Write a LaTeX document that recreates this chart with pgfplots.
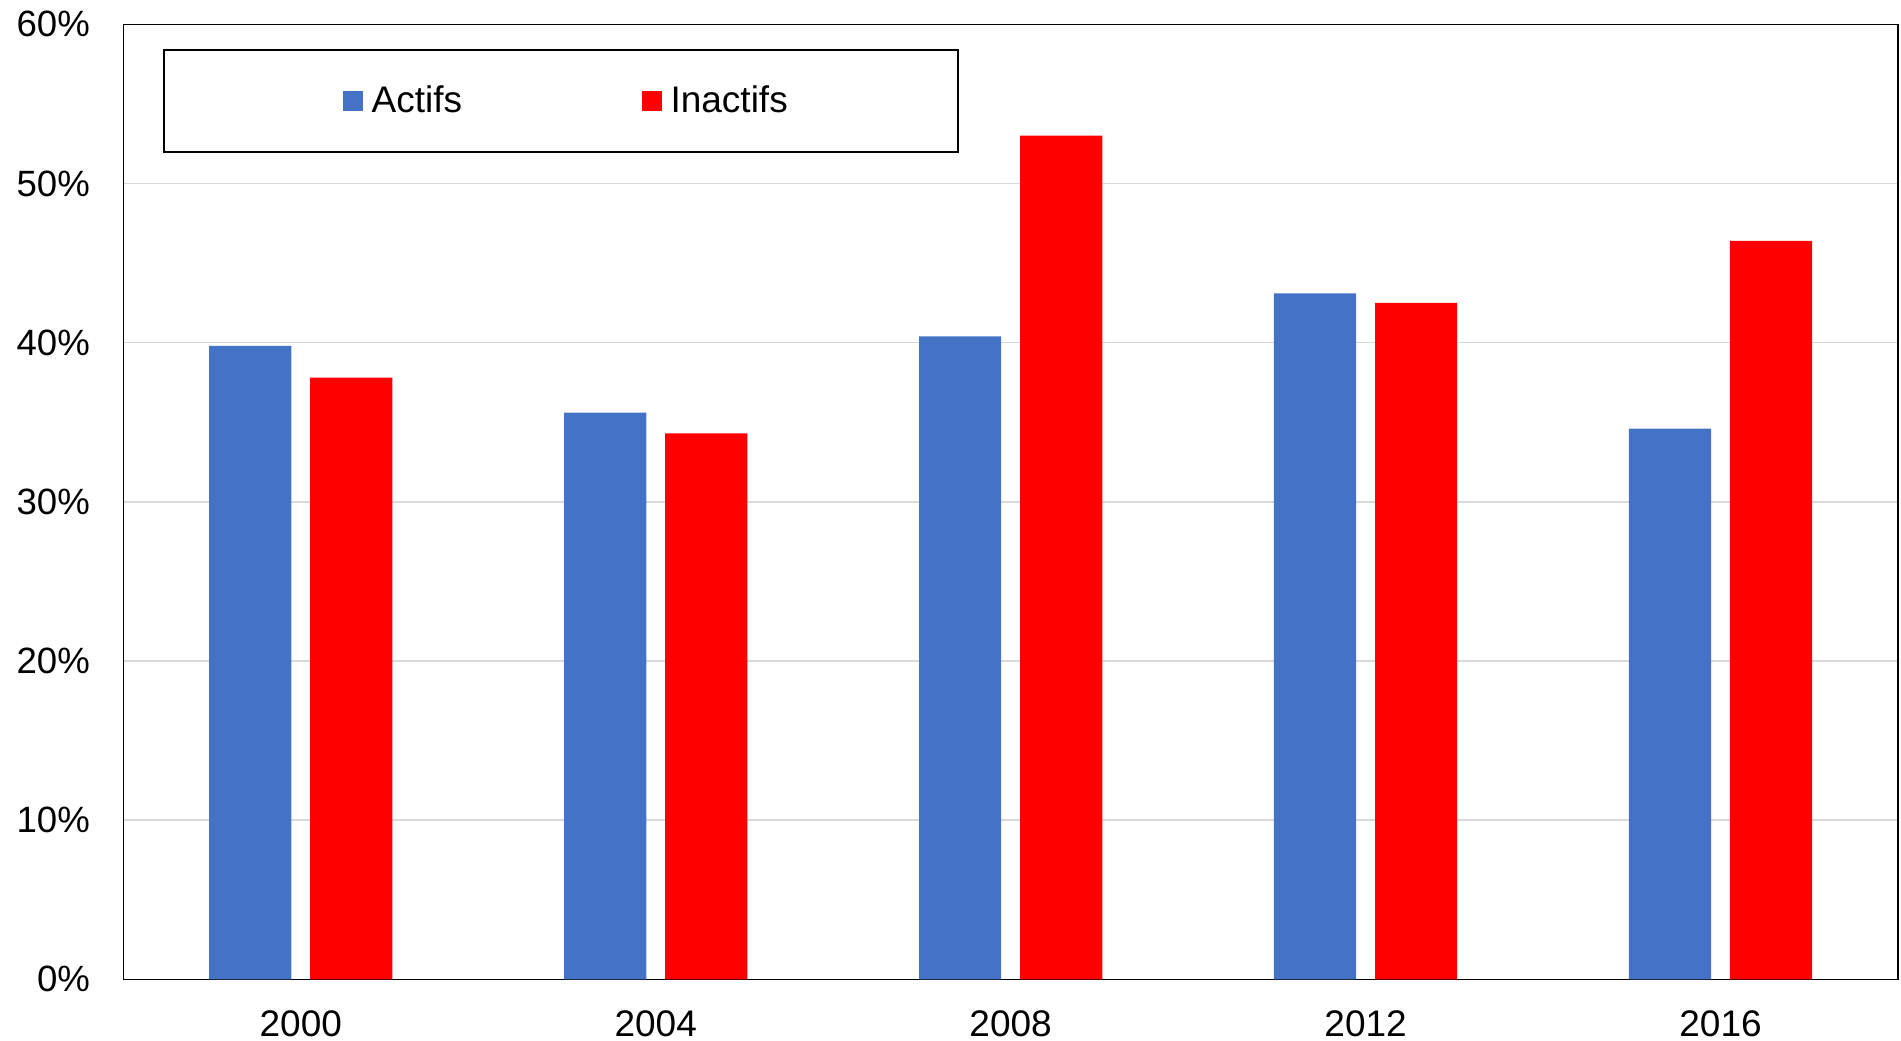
\documentclass[border=0pt]{standalone}
\usepackage{pgfplots}
\pgfplotsset{compat=1.18}
\usepackage{pgfplotstable}
\usepackage{fontspec}
\setmainfont{Liberation Sans}
\definecolor{actblue}{HTML}{4472C4}
\definecolor{inared}{HTML}{FF0000}
\definecolor{gridgray}{HTML}{D9D9D9}
\pgfplotsset{
  firstimg/.style={legend image code/.code={\path (0bp,0bp); \fill[##1, draw=none] (4.4bp,-5bp) rectangle (14.4bp,5bp);}},
  secondimg/.style={legend image code/.code={\fill[##1, draw=none] (0bp,-5bp) rectangle (10bp,5bp);}},
}
\pgfplotstableread{
x actifs inactifs
0 39.8 37.8
1 35.6 34.3
2 40.4 53.0
3 43.1 42.5
4 34.6 46.4
}\datatable
\begin{document}
\begin{tikzpicture}
\useasboundingbox (-61.65bp,-30.85bp) rectangle (888.85bp,489.65bp);
\begin{axis}[
  at={(0,0)}, anchor=south west,
  scale only axis,
  width=887.35bp, height=477.5bp,
  xmin=-0.5, xmax=4.5, ymin=0, ymax=60,
  xtick={0,1,2,3,4},
  xticklabels={2000,2004,2008,2012,2016},
  ytick={0,10,20,30,40,50,60},
  yticklabel={\pgfmathprintnumber{\tick}\%},
  /pgf/number format/assume math mode=true,
  major tick length=0pt,
  tick style={draw=none},
  ymajorgrids,
  grid style={gridgray, line width=0.75bp},
  axis line style={black, line width=0.75bp},
  yticklabel style={font=\fontsize{18.3bp}{22bp}\selectfont, inner sep=0pt, anchor=east, xshift=-16.5bp},
  xticklabel style={font=\fontsize{18.5bp}{22bp}\selectfont, inner sep=0pt, anchor=north, yshift=-15.4bp},
  legend columns=2,
  legend style={
    at={(0.0222,0.9740)}, anchor=north west,
    draw=black, line width=1bp,
    inner xsep=85.3bp, inner ysep=18bp,
    font=\fontsize{18.5bp}{22bp}\selectfont,
    nodes={inner sep=0pt},
    column sep=4.3bp,
    /tikz/every even column/.append style={column sep=89.9bp},
  },
]
\addplot[ybar, bar width=0.2316, bar shift=0pt, fill=actblue, draw=none, firstimg]
  table[x expr=\thisrow{x}-0.1423, y=actifs] {\datatable};
\addlegendentry{Actifs}
\addplot[ybar, bar width=0.2316, bar shift=0pt, fill=inared, draw=none, secondimg]
  table[x expr=\thisrow{x}+0.1423, y=inactifs] {\datatable};
\addlegendentry{Inactifs}
\end{axis}
\end{tikzpicture}
\end{document}
